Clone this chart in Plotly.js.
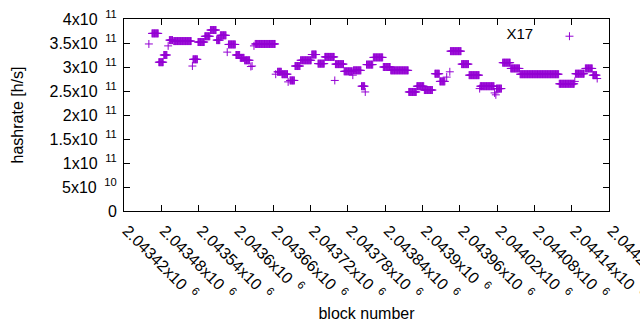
<!DOCTYPE html>
<html>
<head>
<meta charset="utf-8">
<script src="https://cdn.plot.ly/plotly-3.0.1.min.js"></script>
<style>html,body{margin:0;padding:0;background:#fff;}#chart{width:640px;height:330px;}</style>
</head>
<body>
<div id="chart"></div>
<script>
// Run-length data: first block of each run, number of blocks, hashrate [h/s]
var runStart = [2043460,2043465,2043476,2043484,2043491,2043493,2043500,2043530,2043531,2043539,
  2043550,2043559,2043569,2043575,2043586,2043588,2043600,2043607,2043614,2043624,
  2043626,2043629,2043631,2043664,2043667,2043674,2043684,2043687,2043695,2043704,
  2043722,2043732,2043743,2043759,2043760,2043774,2043788,2043789,2043802,2043808,
  2043810,2043821,2043837,2043849,2043878,2043891,2043903,2043920,2043928,2043939,
  2043944,2043945,2043963,2043975,2043992,2043993,2044016,2044018,2044019,2044029,
  2044042,2044057,2044120,2044145,2044146,2044162,2044174,2044181];
var runLength = [1,11,8,6,1,6,29,1,8,11,
  9,10,6,10,1,12,7,7,9,1,
  1,1,33,1,7,10,1,8,9,18,
  8,11,16,1,14,14,1,13,6,1,
  11,16,12,29,13,12,14,8,9,1,
  1,18,12,17,1,23,1,1,9,13,
  15,63,25,1,15,12,7,1];
var runValue = [3.48e11,3.70e11,3.10e11,3.25e11,3.44e11,3.56e11,3.54e11,3.02e11,3.16e11,3.52e11,
  3.64e11,3.77e11,3.56e11,3.66e11,3.31e11,3.47e11,3.25e11,3.19e11,3.14e11,3.01e11,
  3.02e11,3.44e11,3.48e11,2.85e11,2.90e11,2.85e11,2.69e11,2.72e11,3.02e11,3.14e11,
  3.26e11,3.07e11,3.21e11,2.72e11,3.06e11,2.91e11,2.83e11,2.93e11,2.60e11,2.48e11,
  3.05e11,3.20e11,3.00e11,2.93e11,2.48e11,2.60e11,2.52e11,2.86e11,2.70e11,2.79e11,
  2.90e11,3.33e11,3.06e11,2.83e11,2.55e11,2.60e11,2.46e11,2.42e11,2.55e11,3.09e11,
  2.97e11,2.85e11,2.65e11,2.70e11,2.86e11,2.97e11,2.83e11,2.76e11];

var xTickVals = [2043420,2043480,2043540,2043600,2043660,2043720,2043780,2043840,2043900,2043960,2044020,2044080,2044140,2044200];
var xTickText = ['2.04342x10','2.04348x10','2.04354x10','2.0436x10','2.04366x10','2.04372x10','2.04378x10',
  '2.04384x10','2.0439x10','2.04396x10','2.04402x10','2.04408x10','2.04414x10','2.0442x10'];
var xTickExp = '6';
var yTickVals = [0,5e10,1e11,1.5e11,2e11,2.5e11,3e11,3.5e11,4e11];
var yTickText = ['0','5x10','1x10','1.5x10','2x10','2.5x10','3x10','3.5x10','4x10'];
var yTickExp = ['','10','11','11','11','11','11','11','11'];

var xs = [], ys = [];
for (var i = 0; i < runStart.length; i++) {
  for (var k = 0; k < runLength[i]; k++) {
    xs.push(runStart[i] + k);
    ys.push(runValue[i]);
  }
}
var gap = '&nbsp;&#8201;';
var xLabels = xTickText.map(function (t) { return '&nbsp;' + t + gap + '<sup>' + xTickExp + '</sup>'; });
var yLabels = yTickText.map(function (t, j) { return yTickExp[j] ? t + gap + '<sup>' + yTickExp[j] + '</sup>' : t; });

var color = '#9400D3';
var trace = {
  x: xs, y: ys, type: 'scatter', mode: 'markers', name: ' ',
  marker: {symbol: 'cross-thin', size: 5.7, color: color, line: {width: 1, color: color}}
};

var fam = 'Liberation Sans, Arial, sans-serif';
var font = {family: fam, size: 16, color: '#000'};
var lfont = {family: fam, size: 15, color: '#000'};
var layout = {
  width: 640, height: 330,
  margin: {l: 124, r: 31, t: 19, b: 119, pad: 0},
  paper_bgcolor: '#fff', plot_bgcolor: '#fff',
  font: font,
  showlegend: true,
  legend: {x: 0.7844, y: 0.995, xanchor: 'left', yanchor: 'top', bgcolor: 'rgba(0,0,0,0)',
    font: lfont, title: {text: 'X17&nbsp;&nbsp;', side: 'left', font: lfont}},
  xaxis: {
    range: [2043420, 2044200], tickmode: 'array', tickvals: xTickVals, ticktext: xLabels,
    tickangle: 45, ticks: 'inside', ticklen: 6, tickcolor: '#000', showline: true, linecolor: '#000',
    linewidth: 1, mirror: 'ticks', showgrid: false, zeroline: false, tickfont: font,
    ticklabeloverflow: 'allow',
    title: {text: 'block number', font: font, standoff: 5}
  },
  yaxis: {
    range: [0, 4e11], tickmode: 'array', tickvals: yTickVals, ticktext: yLabels,
    ticks: 'inside', ticklen: 6, tickcolor: '#000', showline: true, linecolor: '#000',
    linewidth: 1, mirror: 'ticks', showgrid: false, zeroline: false, tickfont: font,
    ticklabelstandoff: 3,
    title: {text: 'hashrate [h/s]', font: font, standoff: 21}
  }
};
Plotly.newPlot('chart', [trace], layout, {displayModeBar: false, staticPlot: true});
</script>
</body>
</html>
